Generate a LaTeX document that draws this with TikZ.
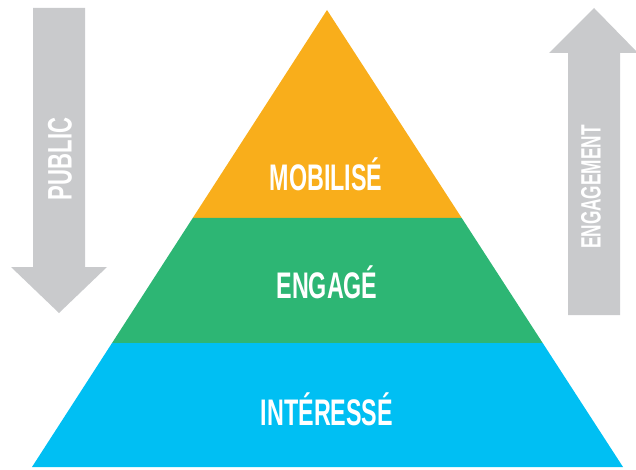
\documentclass[tikz,border=0pt]{standalone}
\usepackage{fontspec}
\setmainfont{Liberation Sans}
\usetikzlibrary{calc}
\definecolor{orangeL}{HTML}{F9AE1B}
\definecolor{greenL}{HTML}{2DB674}
\definecolor{blueL}{HTML}{00BFF3}
\definecolor{greyA}{HTML}{C9CACC}
\begin{document}
\begin{tikzpicture}[x=1pt,y=1pt,
		label/.style={text=white,font=\bfseries\fontsize{37}{37}\selectfont,inner sep=0pt,xscale=0.63},
		side/.style={text=white,font=\bfseries\fontsize{34}{34}\selectfont,inner sep=0pt,rotate=90,xscale=0.65},
		arrowbody/.style={fill=greyA,draw=none}]
		\useasboundingbox (0,0) rectangle (636,469);

		\coordinate (apex) at (327,459);
		\coordinate (bl) at (32,2);
		\coordinate (br) at (623,2);
		\coordinate (l1) at ($(apex)!0.455!(bl)$);
		\coordinate (r1) at ($(apex)!0.455!(br)$);
		\coordinate (l2) at ($(apex)!0.729!(bl)$);
		\coordinate (r2) at ($(apex)!0.729!(br)$);

		\fill[orangeL] (apex) -- (l1) -- (r1) -- cycle;
		\fill[greenL] (l1) -- (l2) -- (r2) -- (r1) -- cycle;
		\fill[blueL] (l2) -- (bl) -- (br) -- (r2) -- cycle;

		% grey arrows
		\fill[arrowbody] (33,461) -- (85,461) -- (85,202) -- (107,202) -- (59,156) -- (11,202) -- (33,202) -- cycle;
		\fill[arrowbody] (568,154) -- (620,154) -- (620,416) -- (638,416) -- (594,461) -- (549,416) -- (568,416) -- cycle;

		\node[label,anchor=base]	(mob)	at (326,278)	{MOBILISÉ};
		\node[label,anchor=base]	(eng)	at (327,171)	{ENGAGÉ};
		\node[label,anchor=base]	(int)	at (327,44)		{INTÉRESSÉ};
		\node[side]				(pub)	at (60,310)	{PUBLIC};
		\node[side,font=\bfseries\fontsize{28}{28}\selectfont,xscale=0.95]	(gag)	at (591,282)	{ENGAGEMENT};
	\end{tikzpicture}
\end{document}
